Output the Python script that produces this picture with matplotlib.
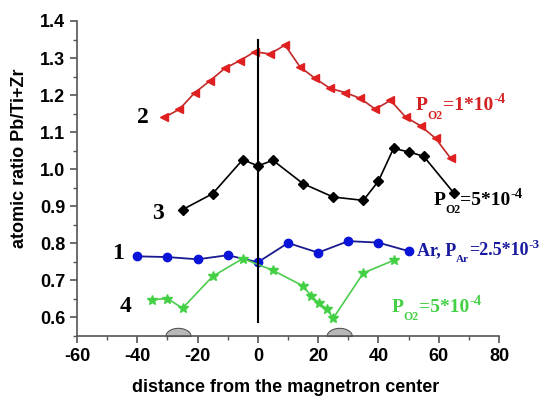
import numpy as np
import matplotlib.pyplot as plt
import matplotlib.transforms as mtransforms
from matplotlib.ticker import MultipleLocator

plt.rcParams['font.family'] = 'Liberation Sans'
plt.rcParams['axes.unicode_minus'] = False

# series 2, P_O2 = 1e-4
x2 = [-31, -26, -21, -16, -11, -6, -1, 4, 9, 14, 19, 24, 29, 34, 39, 44, 49, 54, 59, 64]
y2 = [1.140, 1.162, 1.206, 1.238, 1.272, 1.293, 1.317, 1.311, 1.335, 1.276,
      1.245, 1.218, 1.207, 1.191, 1.162, 1.186, 1.141, 1.117, 1.083, 1.029]
# series 3, P_O2 = 5e-4
x3 = [-25, -15, -5, 0, 5, 15, 25, 35, 40, 45, 50, 55, 65]
y3 = [0.891, 0.934, 1.026, 1.009, 1.024, 0.961, 0.925, 0.916, 0.968, 1.056, 1.047, 1.035, 0.936]
# series 1, Ar
x1 = [-40, -30, -20, -10, 0, 10, 20, 30, 40, 50]
y1 = [0.765, 0.763, 0.757, 0.768, 0.749, 0.801, 0.775, 0.806, 0.802, 0.779]
# series 4, P_O2 = 5e-4
x4 = [-35, -30, -25, -15, -5, 5, 15, 17.6, 20.2, 22.8, 25, 35, 45]
y4 = [0.648, 0.651, 0.625, 0.711, 0.759, 0.727, 0.685, 0.659, 0.639, 0.624, 0.598, 0.720, 0.754]

# erosion zones of the target (grey bumps)
bump_centres = [-26.5, 27]
bump_halfwidth = 4.2
bump_height = 0.022

fig = plt.figure(figsize=(5.45, 3.96), dpi=100)
ax = fig.add_axes([0.1413, 0.1515, 0.7743, 0.7955])
renderer = fig.canvas.get_renderer()


def rich(x, y, parts, color):
    # write text pieces one after another (main, subscript, superscript)
    dx = 0
    for txt, size, dy in parts:
        tr = mtransforms.offset_copy(ax.transData, fig=fig, x=dx, y=dy, units='dots')
        t = ax.text(x, y, txt, transform=tr, fontsize=size, color=color,
                    family='Liberation Serif', fontweight='bold', va='baseline', clip_on=False)
        dx += t.get_window_extent(renderer).width


ax.plot(x2, y2, '-<', color='#c02828', mfc='#e02020', mec='#e02020', ms=6, lw=1.2)
ax.plot(x3, y3, '-D', color='black', ms=5, lw=1.2)
ax.plot(x1, y1, '-o', color='#1a1a90', mfc='#0a14d8', mec='#0a14d8', ms=6, lw=1.3)
ax.plot(x4, y4, '-*', color='#4ccc4c', mfc='#44d044', mec='#44d044', ms=7, lw=1.2)

ax.plot([0, 0], [0.589, 1.349], color='black', lw=1.5)

for c in bump_centres:
    t = np.linspace(-1, 1, 60)
    xs = c + bump_halfwidth * t
    ys = 0.55 + bump_height * np.sqrt(1 - t ** 2)
    ax.fill_between(xs, 0.55, ys, color='#b8b8b8', edgecolor='#555555', lw=0.8, clip_on=False, zorder=1)

ax.set_xlim(-60, 80)
ax.set_ylim(0.55, 1.4)
ax.xaxis.set_major_locator(MultipleLocator(20))
ax.xaxis.set_minor_locator(MultipleLocator(10))
ax.yaxis.set_minor_locator(MultipleLocator(0.05))
ax.set_yticks(np.arange(0.6, 1.41, 0.1))
ax.set_yticklabels(['%.1f' % v for v in np.arange(0.6, 1.41, 0.1)])
for s in ['top', 'right']:
    ax.spines[s].set_visible(False)
for s in ['left', 'bottom']:
    ax.spines[s].set_color('#555555')
    ax.spines[s].set_linewidth(1.2)
ax.tick_params(which='major', direction='out', length=5, width=1.2, color='#555555',
               labelsize=13)
ax.tick_params(which='minor', direction='out', length=3, width=1.0, color='#555555')
for lab in ax.get_xticklabels() + ax.get_yticklabels():
    lab.set_fontweight('bold')

fig.text(20 / 545, 1 - 158 / 396, 'atomic ratio Pb/Ti+Zr', rotation=90, fontsize=13,
         fontweight='bold', ha='center', va='center')
fig.text(286 / 545, 1 - 388 / 396, 'distance from the magnetron center', fontsize=13,
         fontweight='bold', ha='center', va='center')

serif = dict(family='Liberation Serif', fontweight='bold', fontsize=17, ha='center', va='center')
ax.text(-38.2, 1.14, '2', **serif)
ax.text(-33.2, 0.881, '3', **serif)
ax.text(-46.4, 0.773, '1', **serif)
ax.text(-43.8, 0.63, '4', **serif)

rich(52.4, 1.159, [('P', 14, 0), ('O2', 8.5, -9), ('=1*10', 14, 0), ('-4', 10.5, 7)], '#d42020')
rich(58.2, 0.903, [('P', 14, 0), ('O2', 8.5, -8), ('=5*10', 14, 0), ('-4', 10.5, 7)], 'black')
rich(52.8, 0.768, [('Ar, P', 13, 0), ('Ar', 8, -7), ('=2.5*10', 13, 0), ('-3', 9.5, 7)], '#1a1aa0')
rich(44.5, 0.614, [('P', 14, 0), ('O2', 8.5, -8), ('=5*10', 14, 0), ('-4', 10.5, 7)], '#44d044')

fig.savefig('out.png', dpi=100)
